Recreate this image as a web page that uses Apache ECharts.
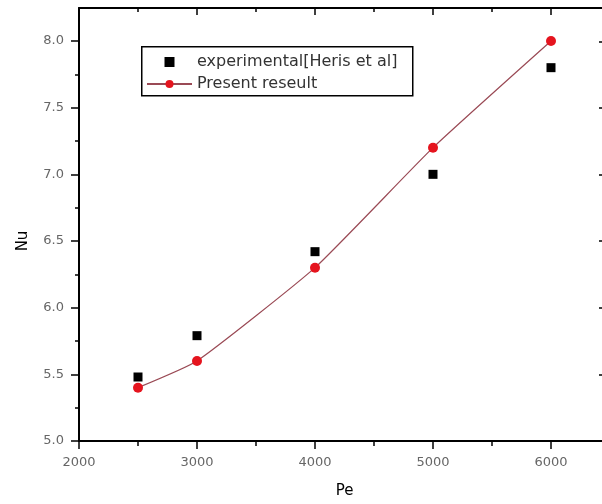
<!DOCTYPE html>
<html>
<head>
<meta charset="utf-8">
<script src="https://cdn.jsdelivr.net/npm/echarts@6/dist/echarts.min.js"></script>
<style>html,body{margin:0;padding:0;background:#fff}#c{width:602px;height:504px}</style>
</head>
<body>
<div id="c"></div>
<script>
const peValues = [2500, 3000, 4000, 5000, 6000];
const nuExperimental = [5.48, 5.79, 6.42, 7.00, 7.80];
const nuPresent = [5.40, 5.60, 6.30, 7.20, 8.00];
const seriesNames = ['experimental[Heris et al]', 'Present reseult'];
const xName = 'Pe';
const yName = 'Nu';

const chart = echarts.init(document.getElementById('c'), null, {renderer: 'canvas'});
const font = 'DejaVu Sans';
const axisLine = {show: true, onZero: false, lineStyle: {color: '#000', width: 2}};
const pairs = (ys) => peValues.map((x, i) => [x, ys[i]]);
const gridBase = {containLabel: false, outerBoundsMode: 'none'};

chart.setOption({
  animation: false,
  backgroundColor: '#fff',
  grid: [
    Object.assign({left: 79, top: 441 - 3.5 * 400 / 3, width: 531, height: 3.5 * 400 / 3}, gridBase),
    Object.assign({left: 79, top: 8, width: 531, height: 433}, gridBase),
    Object.assign({left: 79, top: 441 - 2.75 * 400 / 3, width: 531, height: 2.5 * 400 / 3}, gridBase)
  ],
  graphic: [{
    type: 'rect', left: 141, top: 46, z: 5,
    shape: {width: 271, height: 49},
    style: {fill: '#fff', stroke: '#000', lineWidth: 1.5}
  }],
  legend: {
    left: 141, top: 46, orient: 'vertical', z: 10,
    padding: [8, 5, 4, 5], itemGap: 6, itemWidth: 45, itemHeight: 10,
    textStyle: {fontFamily: font, fontSize: 16, color: '#333'},
    data: [
      {name: seriesNames[0], icon: 'path://M0,0L10,0L10,10L0,10Z'},
      {name: seriesNames[1]}
    ]
  },
  xAxis: [
    {gridIndex: 0, type: 'value', min: 2000, max: 6500, interval: 1000,
     position: 'bottom', axisLine,
     axisTick: {show: true, length: 8, lineStyle: {color: '#000', width: 1.5}},
     minorTick: {show: true, splitNumber: 2, length: 5, lineStyle: {color: '#000', width: 1.5}},
     axisLabel: {show: true, fontFamily: font, fontSize: 13, color: '#666', margin: 15,
       formatter: v => (v % 1000 === 0 ? String(v) : '')},
     splitLine: {show: false},
     name: xName, nameLocation: 'middle', nameGap: 43,
     nameTextStyle: {fontFamily: font, fontSize: 15, color: '#000'}},
    {gridIndex: 1, type: 'value', min: 2000, max: 6500, interval: 1000,
     position: 'top', axisLine,
     axisTick: {show: true, inside: true, length: 7, lineStyle: {color: '#000', width: 1.5}},
     minorTick: {show: true, splitNumber: 2, length: 4, lineStyle: {color: '#000', width: 1.5}},
     axisLabel: {show: false}, splitLine: {show: false}},
    {gridIndex: 2, type: 'value', min: 2000, max: 6500, show: false}
  ],
  yAxis: [
    {gridIndex: 0, type: 'value', min: 5, max: 8.5, interval: 0.5, position: 'left',
     axisLine: {show: false},
     axisTick: {show: true, length: 8, lineStyle: {color: '#000', width: 1.5}},
     axisLabel: {show: true, fontFamily: font, fontSize: 13, color: '#666', margin: 15,
       formatter: v => v.toFixed(1)},
     splitLine: {show: false}},
    {gridIndex: 1, type: 'value', min: 5, max: 8.25, position: 'left',
     axisLine, axisTick: {show: false}, axisLabel: {show: false}, splitLine: {show: false}},
    {gridIndex: 1, type: 'value', min: 5, max: 8.25, interval: 0.5, position: 'right',
     axisLine,
     axisTick: {show: true, inside: true, length: 11, lineStyle: {color: '#000', width: 1.5}},
     axisLabel: {show: false}, splitLine: {show: false}},
    {gridIndex: 2, type: 'value', min: 5.25, max: 7.75, interval: 0.5, position: 'left',
     axisLine: {show: false},
     axisTick: {show: true, length: 4, lineStyle: {color: '#000', width: 1.5}},
     axisLabel: {show: false}, splitLine: {show: false},
     name: yName, nameLocation: 'middle', nameGap: 48, nameRotate: 90,
     nameTextStyle: {fontFamily: font, fontSize: 15, color: '#000'}}
  ],
  series: [
    {name: seriesNames[0], type: 'scatter', xAxisIndex: 0, yAxisIndex: 0,
     symbol: 'rect', symbolSize: 9, itemStyle: {color: '#000', opacity: 1}, z: 3,
     data: pairs(nuExperimental)},
    {name: seriesNames[1], type: 'line', xAxisIndex: 0, yAxisIndex: 0,
     smooth: 0.15, symbol: 'circle', symbolSize: 10, showSymbol: true,
     lineStyle: {color: '#9a4a55', width: 1.2},
     itemStyle: {color: '#e5141e', opacity: 1}, z: 4,
     data: pairs(nuPresent)}
  ]
});
</script>
</body>
</html>
